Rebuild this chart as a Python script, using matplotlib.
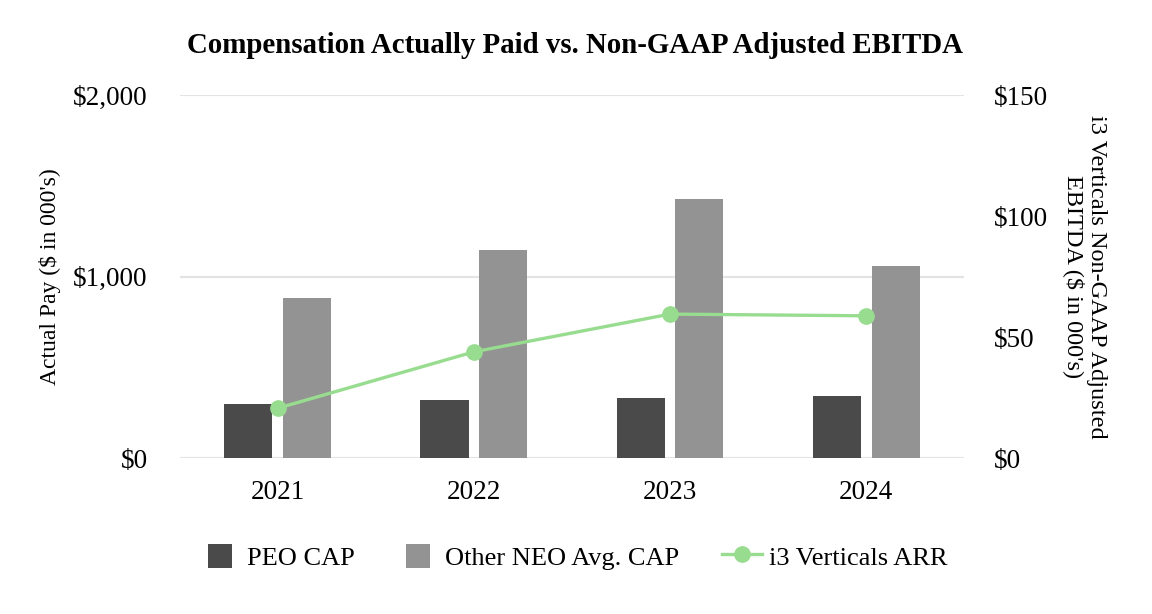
import numpy as np
import matplotlib.pyplot as plt
from matplotlib.ticker import FuncFormatter
from matplotlib.patches import Rectangle
from matplotlib.container import BarContainer
from matplotlib.legend_handler import HandlerPatch, update_from_first_child

years = ['2021', '2022', '2023', '2024']
peo_cap = [298, 320, 331, 342]
neo_cap = [884, 1149, 1425, 1061]
ebitda = [20.6, 43.9, 59.5, 58.8]

plt.rcParams['font.family'] = ['Liberation Serif', 'DejaVu Serif']


def square_patch(legend, orig_handle, xdescent, ydescent, width, height, fontsize):
    # square box centred in the handle area
    return Rectangle((-xdescent + (width - height) / 2, -ydescent), height, height)


fig = plt.figure(figsize=(11.52, 6.14), dpi=100)
ax = fig.add_axes([0.156, 0.254, 0.681, 0.591])
ax2 = ax.twinx()

x = np.arange(len(years))
w = 0.245
ax.bar(x - 0.15, peo_cap, w, color='#4a4a4a', label='PEO CAP', zorder=2)
ax.bar(x + 0.15, neo_cap, w, color='#939393', label='Other NEO Avg. CAP', zorder=2)
ax2.plot(x, ebitda, color='#98dc8f', lw=2.4, marker='o', ms=11, label='i3 Verticals ARR', zorder=3)

ax.set_xlim(-0.5, 3.5)
ax.set_ylim(0, 2000)
ax.set_yticks([0, 1000, 2000])
ax.yaxis.set_major_formatter(FuncFormatter(lambda v, p: '${:,.0f}'.format(v)))
ax2.set_ylim(0, 150)
ax2.set_yticks([0, 50, 100, 150])
ax2.yaxis.set_major_formatter(FuncFormatter(lambda v, p: '${:,.0f}'.format(v)))
ax.set_xticks(x)
ax.set_xticklabels(years)

ax.grid(axis='y', color='#e3e3e3', lw=1.5, zorder=0)
ax.set_axisbelow(True)
for a in (ax, ax2):
    for s in a.spines.values():
        s.set_visible(False)
    a.tick_params(length=0, labelsize=19.5)
ax.tick_params(axis='x', pad=16)
ax.tick_params(axis='y', pad=23)
ax2.tick_params(axis='y', pad=21)

ax.set_ylabel("Actual Pay ($ in 000's)", fontsize=17, labelpad=9)
ax2.set_ylabel("i3 Verticals Non-GAAP Adjusted\nEBITDA ($ in 000's)", fontsize=17.5,
               rotation=-90, labelpad=11, va='bottom', linespacing=1.05)

fig.suptitle('Compensation Actually Paid vs. Non-GAAP Adjusted EBITDA', x=0.499, y=0.926,
             va='center', fontsize=20.8, fontweight='bold')

h1, l1 = ax.get_legend_handles_labels()
h2, l2 = ax2.get_legend_handles_labels()
fig.legend(h1 + h2, l1 + l2, loc='center', bbox_to_anchor=(0.498, 0.093), ncol=3,
           frameon=False, fontsize=19, handlelength=1.5, handleheight=1.0,
           columnspacing=1.65, handletextpad=0.27,
           handler_map={BarContainer: HandlerPatch(patch_func=square_patch,
                                                   update_func=update_from_first_child)})

fig.savefig('out.png', dpi=100)
